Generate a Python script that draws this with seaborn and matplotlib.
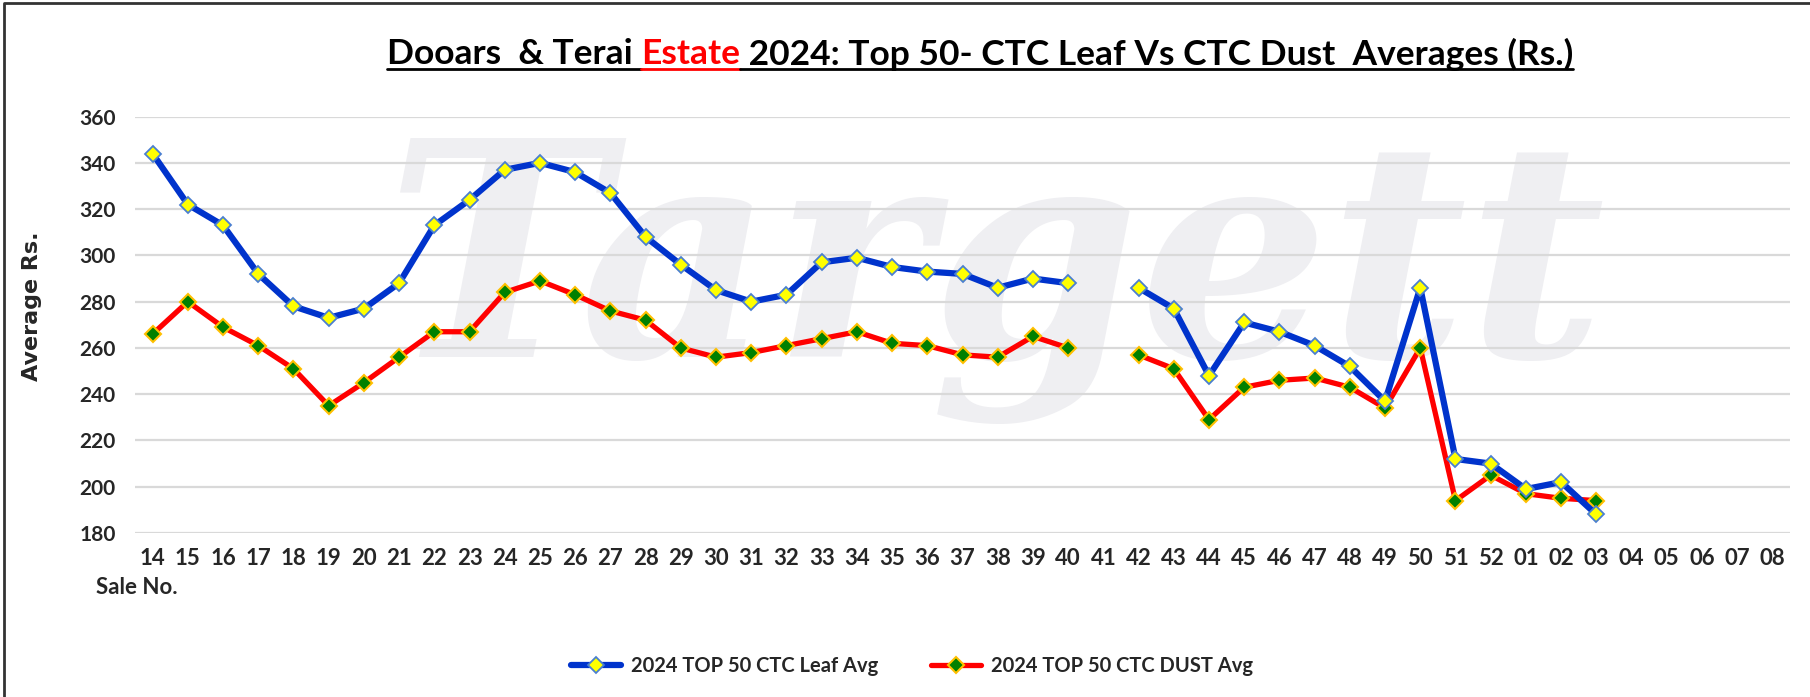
import numpy as np
import pandas as pd
import matplotlib
matplotlib.use("Agg")
import matplotlib.pyplot as plt
from matplotlib.lines import Line2D
import seaborn as sns

# sale numbers on the x axis (2024 sales 14-52, then 2025 sales 01-08)
sale_no = ["14", "15", "16", "17", "18", "19", "20", "21", "22", "23", "24", "25",
           "26", "27", "28", "29", "30", "31", "32", "33", "34", "35", "36", "37",
           "38", "39", "40", "41", "42", "43", "44", "45", "46", "47", "48", "49",
           "50", "51", "52", "01", "02", "03", "04", "05", "06", "07", "08"]

nan = np.nan
leaf_avg = [344, 322, 313, 292, 278, 273, 277, 288, 313, 324, 337, 340,
            336, 327, 308, 296, 285, 280, 283, 297, 299, 295, 293, 292,
            286, 290, 288, nan, 286, 277, 248, 271, 267, 261, 252, 237,
            286, 212, 210, 199, 202, 188, nan, nan, nan, nan, nan]
dust_avg = [266, 280, 269, 261, 251, 235, 245, 256, 267, 267, 284, 289,
            283, 276, 272, 260, 256, 258, 261, 264, 267, 262, 261, 257,
            256, 265, 260, nan, 257, 251, 229, 243, 246, 247, 243, 234,
            260, 194, 205, 197, 195, 194, nan, nan, nan, nan, nan]

series_names = ["2024 TOP 50 CTC Leaf Avg", "2024 TOP 50 CTC DUST Avg"]
y_ticks = [180, 200, 220, 240, 260, 280, 300, 320, 340, 360]


def to_frame(values, name):
    df = pd.DataFrame({"pos": np.arange(len(values)), "value": values})
    # split into runs so missing sales leave a gap in the line
    df["seg"] = df["value"].isna().cumsum()
    df = df.dropna()
    df["series"] = name
    return df


leaf_df = to_frame(leaf_avg, series_names[0])
dust_df = to_frame(dust_avg, series_names[1])

sns.set_style("white")
plt.rcParams["font.family"] = ["Lato", "DejaVu Sans"]

fig = plt.figure(figsize=(18.1, 6.97), dpi=100)
ax = fig.add_axes([135 / 1810, 1 - 533 / 697, (1790 - 135) / 1810, (533 - 116.6) / 697])
ax.patch.set_alpha(0)
ax.set_zorder(1)

# faint watermark behind the chart
fig.text(0.55, 0.60, "Targett", fontsize=215, family="DejaVu Serif", style="italic",
         weight="bold", color="#efeff2", ha="center", va="center", zorder=-5)

blue_style = dict(color="#0033cc", linewidth=4.5, marker="D", markersize=8,
                  markerfacecolor="#ffff00", markeredgecolor="#4a7fd0", markeredgewidth=1.3)
red_style = dict(color="#ff0000", linewidth=3.8, marker="D", markersize=8,
                 markerfacecolor="#008000", markeredgecolor="#ffc000", markeredgewidth=1.5)

sns.lineplot(data=leaf_df, x="pos", y="value", units="seg", estimator=None,
             ax=ax, legend=False, zorder=4, **blue_style)
sns.lineplot(data=dust_df, x="pos", y="value", units="seg", estimator=None,
             ax=ax, legend=False, zorder=3, **red_style)

ax.set_xlim(-0.5, len(sale_no) - 0.5)
ax.set_ylim(180, 360)
ax.set_yticks(y_ticks)
ax.set_xticks(range(len(sale_no)))
ax.set_xticklabels(sale_no)
ax.grid(axis="y", color="#d9d9d9", linewidth=1.6)
ax.grid(axis="x", visible=False)
ax.set_axisbelow(True)
for s in ax.spines.values():
    s.set_visible(False)
ax.tick_params(axis="both", length=0)
ax.tick_params(axis="x", labelsize=16, pad=11)
ax.tick_params(axis="y", labelsize=15, pad=14)
for lab in ax.get_xticklabels() + ax.get_yticklabels():
    lab.set_fontweight("bold")
ax.set_xlabel("")
ax.set_ylabel("")

fig.text(32 / 1810, 1 - 306 / 697, "Average Rs.", rotation=90, fontsize=16,
         family="DejaVu Sans", weight="bold", ha="center", va="center")
fig.text(96 / 1810, 1 - 587 / 697, "Sale No.", fontsize=16, weight="bold",
         ha="left", va="center")

# title in pieces so "Estate" can be red, with an underline
pieces = [("Dooars  & Terai ", "black"), ("Estate", "red"),
          (" 2024: Top 50- CTC Leaf Vs CTC Dust  Averages (Rs.)", "black")]
title_y = 1 - 54 / 697
texts = [fig.text(0, title_y, t, fontsize=25.5, weight="bold", color=c, va="center")
         for t, c in pieces]
fig.canvas.draw()
r = fig.canvas.get_renderer()
widths = [t.get_window_extent(r).width for t in texts]
x = 980 - sum(widths) / 2
for t, w, (_, c) in zip(texts, widths, pieces):
    t.set_x(x / 1810)
    fig.add_artist(Line2D([x / 1810, (x + w) / 1810], [1 - 69 / 697] * 2,
                          color=c, linewidth=2, transform=fig.transFigure))
    x += w

handles = [Line2D([], [], **blue_style), Line2D([], [], **red_style)]
fig.legend(handles, series_names, loc="center", bbox_to_anchor=(912 / 1810, 1 - 666 / 697),
           ncol=2, frameon=False, prop={"weight": "bold", "size": 14.5},
           handlelength=2.5, columnspacing=2.6, handletextpad=0.5)

# outer frame (left and top edges)
fig.add_artist(Line2D([0.002, 0.002, 1], [0, 0.996, 0.996], color="#333333",
                      linewidth=2, transform=fig.transFigure))

fig.savefig("out.png", dpi=100)
